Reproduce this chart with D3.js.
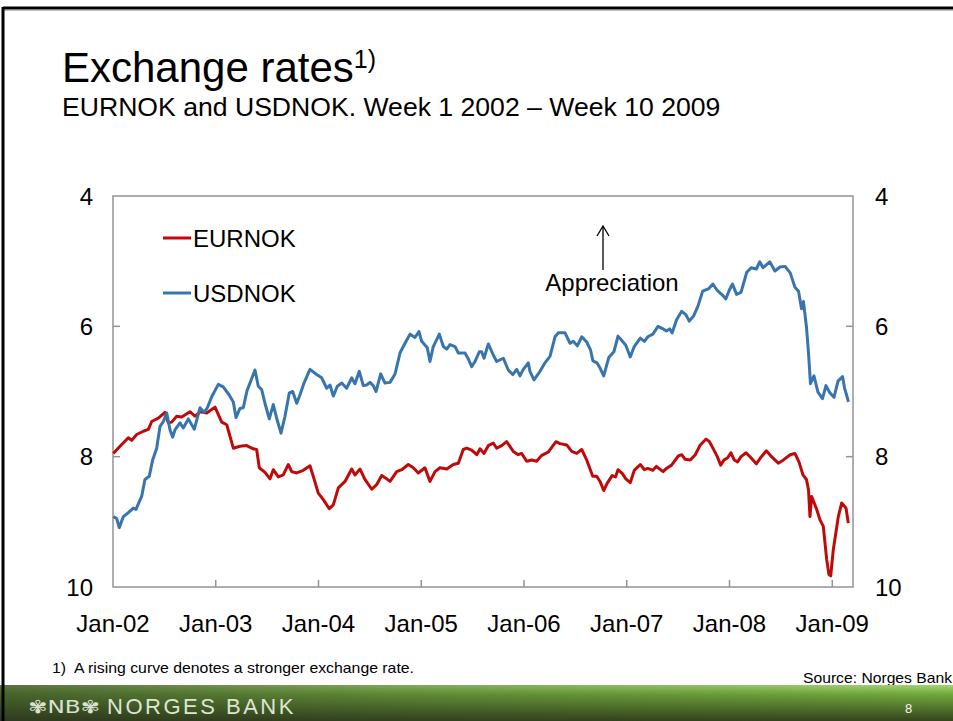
<!DOCTYPE html>
<head>
  <meta charset="utf-8">
  <title>Exchange rates</title>
  <script src="https://cdn.jsdelivr.net/npm/d3@7"></script>
  <style>
  body { margin: 0; background: #fff; }
  svg text { font-family: "Liberation Sans", Arial, sans-serif; fill: #000; }
  .frame line, .frame rect { stroke: #939393; }
  </style>
</head>

<body>
  <script type="text/javascript">
    var WIDTH = 953;
    var HEIGHT = 721;

    // EURNOK (decimal year, NOK per EUR)
    var eurDates = [2002.003,2002.068,2002.149,2002.182,2002.231,2002.295,2002.344,2002.377,2002.441,2002.506,2002.538,2002.571,2002.620,2002.669,2002.749,2002.798,2002.847,2002.912,2002.993,
      2003.058,2003.107,2003.171,2003.236,2003.301,2003.365,2003.398,2003.424,2003.479,2003.528,2003.560,2003.609,2003.657,2003.706,2003.739,2003.788,2003.852,2003.917,2003.949,2003.998,
      2004.047,2004.105,2004.144,2004.193,2004.258,2004.323,2004.355,2004.404,2004.452,2004.518,2004.566,2004.615,2004.664,2004.696,2004.761,2004.810,2004.874,2004.923,2004.971,
      2005.036,2005.085,2005.134,2005.182,2005.248,2005.312,2005.361,2005.409,2005.442,2005.491,2005.540,2005.572,2005.611,2005.653,2005.701,2005.734,2005.783,2005.831,2005.896,2005.944,2005.977,
      2006.026,2006.075,2006.123,2006.172,2006.236,2006.311,2006.350,2006.416,2006.464,2006.513,2006.562,2006.610,2006.669,2006.708,2006.740,2006.776,2006.809,2006.858,2006.891,2006.915,2006.958,2006.991,
      2007.034,2007.073,2007.132,2007.172,2007.205,2007.254,2007.288,2007.354,2007.386,2007.436,2007.502,2007.535,2007.568,2007.618,2007.667,2007.716,2007.772,2007.805,2007.849,2007.881,2007.914,2007.947,2007.981,
      2008.013,2008.046,2008.079,2008.112,2008.161,2008.211,2008.261,2008.310,2008.359,2008.409,2008.475,2008.525,2008.591,2008.637,2008.676,2008.715,2008.749,2008.769,2008.783,2008.800,2008.849,2008.881,2008.913,2008.946,2008.968,2008.985,
      2009.010,2009.059,2009.092,2009.134,2009.156];
    var eurnok = [7.95,7.84,7.71,7.75,7.66,7.61,7.58,7.46,7.41,7.32,7.48,7.47,7.38,7.39,7.31,7.38,7.31,7.33,7.24,
      7.47,7.51,7.87,7.84,7.83,7.88,7.89,8.17,8.24,8.34,8.20,8.31,8.28,8.12,8.23,8.25,8.21,8.14,8.30,8.56,
      8.66,8.80,8.74,8.48,8.38,8.19,8.28,8.19,8.35,8.50,8.43,8.29,8.34,8.38,8.23,8.20,8.12,8.17,8.25,
      8.17,8.38,8.23,8.17,8.19,8.12,8.10,7.89,7.87,7.90,7.97,7.88,7.95,7.83,7.79,7.87,7.83,7.77,7.92,7.97,7.95,
      8.07,8.05,8.07,7.98,7.93,7.77,7.80,7.82,7.92,7.95,7.89,8.05,8.30,8.30,8.38,8.52,8.41,8.29,8.31,8.20,8.26,8.34,
      8.40,8.21,8.12,8.20,8.18,8.21,8.15,8.23,8.18,8.13,7.99,7.97,8.04,8.05,7.97,7.82,7.73,7.77,7.90,8.00,8.13,8.05,8.02,
      7.94,8.05,8.08,8.00,7.94,8.02,8.11,8.00,7.91,8.00,8.10,8.05,7.97,7.95,8.08,8.28,8.35,8.51,8.92,8.61,8.81,8.97,9.07,9.58,9.81,9.83,
      9.43,8.92,8.71,8.79,9.02];

    // USDNOK (decimal year, NOK per USD)
    var usdDates = [2002.003,2002.036,2002.061,2002.100,2002.149,2002.198,2002.224,2002.256,2002.279,2002.311,2002.353,2002.386,2002.425,2002.457,2002.490,2002.523,2002.555,2002.581,2002.603,2002.652,2002.684,2002.733,2002.791,2002.847,2002.886,2002.918,2002.961,
      2003.025,2003.073,2003.129,2003.171,2003.197,2003.236,2003.268,2003.304,2003.382,2003.414,2003.447,2003.479,2003.521,2003.560,2003.593,2003.635,2003.674,2003.716,2003.749,2003.788,2003.820,2003.859,2003.917,2003.982,
      2004.031,2004.080,2004.112,2004.144,2004.183,2004.226,2004.274,2004.323,2004.355,2004.397,2004.436,2004.469,2004.501,2004.533,2004.560,2004.605,2004.647,2004.696,2004.745,2004.793,2004.842,2004.891,2004.939,2004.978,
      2005.004,2005.059,2005.085,2005.117,2005.176,2005.215,2005.248,2005.280,2005.328,2005.361,2005.426,2005.458,2005.491,2005.523,2005.565,2005.588,2005.611,2005.653,2005.701,2005.734,2005.799,2005.847,2005.890,2005.929,2005.961,2005.993,
      2006.042,2006.058,2006.097,2006.156,2006.204,2006.253,2006.302,2006.334,2006.399,2006.448,2006.480,2006.519,2006.562,2006.610,2006.647,2006.671,2006.710,2006.740,2006.776,2006.825,2006.875,2006.915,2006.958,2006.991,
      2007.034,2007.073,2007.132,2007.172,2007.205,2007.254,2007.304,2007.354,2007.386,2007.419,2007.442,2007.485,2007.535,2007.575,2007.608,2007.651,2007.693,2007.739,2007.799,2007.838,2007.881,2007.931,2007.964,2007.997,
      2008.029,2008.069,2008.112,2008.168,2008.211,2008.261,2008.294,2008.327,2008.392,2008.442,2008.491,2008.541,2008.591,2008.637,2008.672,2008.701,2008.720,2008.749,2008.769,2008.788,2008.822,2008.861,2008.905,2008.939,2008.973,
      2009.017,2009.056,2009.100,2009.119,2009.158];
    var usdnok = [8.92,8.95,9.09,8.92,8.86,8.79,8.81,8.69,8.61,8.35,8.30,8.05,7.87,7.54,7.46,7.33,7.59,7.70,7.59,7.48,7.56,7.42,7.58,7.25,7.32,7.25,7.08,
      6.89,6.93,7.05,7.16,7.40,7.26,7.25,6.99,6.67,6.92,6.97,7.18,7.42,7.20,7.41,7.64,7.38,7.02,7.00,7.18,7.05,6.87,6.66,6.74,
      6.79,6.95,6.90,7.07,6.92,6.87,6.95,6.79,6.88,6.69,6.91,6.90,6.86,6.91,7.00,6.73,6.87,6.86,6.73,6.41,6.26,6.12,6.17,6.08,
      6.23,6.33,6.54,6.31,6.12,6.31,6.35,6.28,6.31,6.41,6.41,6.50,6.62,6.54,6.39,6.39,6.49,6.27,6.44,6.54,6.49,6.67,6.74,6.66,6.76,6.66,
      6.56,6.69,6.82,6.69,6.56,6.46,6.16,6.10,6.10,6.26,6.23,6.30,6.16,6.24,6.36,6.53,6.56,6.64,6.76,6.48,6.39,6.15,6.23,6.29,
      6.47,6.31,6.18,6.23,6.16,6.12,6.00,6.04,6.07,6.04,6.10,5.90,5.77,5.82,5.92,5.84,5.69,5.46,5.42,5.35,5.45,5.52,5.58,5.45,
      5.35,5.51,5.48,5.17,5.10,5.12,5.01,5.10,5.01,5.15,5.09,5.08,5.18,5.40,5.46,5.73,5.62,6.01,6.41,6.88,6.76,7.01,7.11,6.91,7.01,
      7.09,6.84,6.77,6.94,7.16];

    var yearTicks = [2002, 2003, 2004, 2005, 2006, 2007, 2008, 2009];
    var yearLabels = ["Jan-02", "Jan-03", "Jan-04", "Jan-05", "Jan-06", "Jan-07", "Jan-08", "Jan-09"];
    var valueTicks = [4, 6, 8, 10];

    var series = [
      {name: "EURNOK", color: "#c00a0a", dates: eurDates, values: eurnok},
      {name: "USDNOK", color: "#3874ad", dates: usdDates, values: usdnok}
    ];

    var svg = d3.select("body").append("svg")
                .attr("width", WIDTH)
                .attr("height", HEIGHT);

    // slide frame
    svg.append("rect").attr("x", 0).attr("y", 0).attr("width", WIDTH).attr("height", HEIGHT).attr("fill", "#fff");
    svg.append("line").attr("x1", 3).attr("x2", WIDTH).attr("y1", 8).attr("y2", 8)
      .attr("stroke", "#000").attr("stroke-width", 3);
    svg.append("line").attr("x1", 3).attr("x2", WIDTH).attr("y1", 10.5).attr("y2", 10.5)
      .attr("stroke", "#bbb").attr("stroke-width", 1);
    svg.append("line").attr("x1", 3).attr("x2", 3).attr("y1", 7).attr("y2", HEIGHT)
      .attr("stroke", "#000").attr("stroke-width", 3);

    // title
    var title = svg.append("text").attr("x", 62).attr("y", 82).style("font-size", "42px");
    title.append("tspan").text("Exchange rates");
    title.append("tspan").attr("dy", -14).style("font-size", "25px").text("1)");
    svg.append("text").attr("x", 62).attr("y", 116).style("font-size", "26.6px")
      .text("EURNOK and USDNOK. Week 1 2002 \u2013 Week 10 2009");

    // plot area
    var plotL = 113, plotR = 853, plotT = 196, plotB = 587;
    var x = d3.scaleLinear().domain([2002, 2002 + (plotR - plotL) / 102.75]).range([plotL, plotR]);
    var y = d3.scaleLinear().domain([4, 10]).range([plotT, plotB]);

    var frame = svg.append("g").attr("class", "frame");
    frame.append("rect").attr("x", plotL).attr("y", plotT)
      .attr("width", plotR - plotL).attr("height", plotB - plotT)
      .attr("fill", "none").attr("stroke-width", 1.5);

    frame.selectAll(".xt").data(yearTicks.slice(1)).enter().append("line")
      .attr("x1", function(d){ return x(d); }).attr("x2", function(d){ return x(d); })
      .attr("y1", plotB).attr("y2", plotB - 7).attr("stroke-width", 1.5);
    frame.selectAll(".yl").data([6, 8]).enter().append("line")
      .attr("x1", plotL).attr("x2", plotL + 7)
      .attr("y1", function(d){ return y(d); }).attr("y2", function(d){ return y(d); }).attr("stroke-width", 1.5);
    frame.selectAll(".yr").data([6, 8]).enter().append("line")
      .attr("x1", plotR).attr("x2", plotR - 7)
      .attr("y1", function(d){ return y(d); }).attr("y2", function(d){ return y(d); }).attr("stroke-width", 1.5);

    // axis labels
    svg.selectAll(".ylab").data(valueTicks).enter().append("text")
      .attr("x", 93).attr("y", function(d){ return y(d); }).attr("dy", "0.36em")
      .attr("text-anchor", "end").style("font-size", "24px")
      .text(function(d){ return d; });
    svg.selectAll(".yrlab").data(valueTicks).enter().append("text")
      .attr("x", 875).attr("y", function(d){ return y(d); }).attr("dy", "0.36em")
      .style("font-size", "24px")
      .text(function(d){ return d; });
    svg.selectAll(".xlab").data(yearTicks).enter().append("text")
      .attr("x", function(d){ return x(d); }).attr("y", 632)
      .attr("text-anchor", "middle").style("font-size", "24px")
      .text(function(d, i){ return yearLabels[i]; });

    // lines
    var line = d3.line()
      .x(function(d){ return x(d[0]); })
      .y(function(d){ return y(d[1]); });

    svg.selectAll(".series").data(series).enter().append("path")
      .attr("fill", "none")
      .attr("stroke", function(d){ return d.color; })
      .attr("stroke-width", 3)
      .attr("stroke-linejoin", "round")
      .attr("d", function(d){ return line(d3.zip(d.dates, d.values)); });

    // legend
    var legend = svg.selectAll(".legend").data(series).enter().append("g")
      .attr("transform", function(d, i){ return "translate(163," + (238 + i * 55) + ")"; });
    legend.append("line").attr("x1", 0).attr("x2", 28).attr("y1", 0).attr("y2", 0)
      .attr("stroke", function(d){ return d.color; }).attr("stroke-width", 3);
    legend.append("text").attr("x", 30).attr("y", 0).attr("dy", "0.36em")
      .style("font-size", "24px").text(function(d){ return d.name; });

    // appreciation arrow
    svg.append("line").attr("x1", 603).attr("x2", 603).attr("y1", 270).attr("y2", 226)
      .attr("stroke", "#000").attr("stroke-width", 1.3);
    svg.append("path").attr("d", "M597,236 L603,226 L609,236")
      .attr("fill", "none").attr("stroke", "#000").attr("stroke-width", 1.3);
    svg.append("text").attr("x", 612).attr("y", 291).attr("text-anchor", "middle")
      .style("font-size", "24px").text("Appreciation");

    // footnote and source
    svg.append("text").attr("x", 52).attr("y", 673).style("font-size", "15px")
      .attr("textLength", 362).attr("lengthAdjust", "spacingAndGlyphs")
      .text("1)\u00a0 A rising curve denotes a stronger exchange rate.");
    svg.append("text").attr("x", 803).attr("y", 683).style("font-size", "15px")
      .attr("textLength", 149).attr("lengthAdjust", "spacingAndGlyphs")
      .text("Source: Norges Bank");

    // bottom banner
    var defs = svg.append("defs");
    var gv = defs.append("linearGradient").attr("id", "bannerV").attr("x1", 0).attr("y1", 0).attr("x2", 0).attr("y2", 1);
    gv.append("stop").attr("offset", "0%").attr("stop-color", "#a4d472");
    gv.append("stop").attr("offset", "25%").attr("stop-color", "#72aa3c");
    gv.append("stop").attr("offset", "100%").attr("stop-color", "#34441d");
    var gh = defs.append("linearGradient").attr("id", "bannerH").attr("x1", 0).attr("y1", 0).attr("x2", 1).attr("y2", 0);
    gh.append("stop").attr("offset", "0%").attr("stop-color", "#2a3320").attr("stop-opacity", 0.6);
    gh.append("stop").attr("offset", "45%").attr("stop-color", "#2a3320").attr("stop-opacity", 0.25);
    gh.append("stop").attr("offset", "100%").attr("stop-color", "#2a3320").attr("stop-opacity", 0);

    svg.append("rect").attr("x", 0).attr("y", 685).attr("width", WIDTH).attr("height", 36).attr("fill", "url(#bannerV)");
    svg.append("rect").attr("x", 0).attr("y", 685).attr("width", WIDTH).attr("height", 36).attr("fill", "url(#bannerH)");
    svg.append("line").attr("x1", 3).attr("x2", 3).attr("y1", 685).attr("y2", HEIGHT)
      .attr("stroke", "#000").attr("stroke-width", 3);

    svg.append("text").attr("x", 28).attr("y", 713)
      .style("font-family", "DejaVu Sans").style("font-size", "18px").style("fill", "#d9e2cf")
      .attr("textLength", 72).attr("lengthAdjust", "spacingAndGlyphs")
      .text("\u273ENB\u273E");
    svg.append("text").attr("x", 107).attr("y", 714)
      .style("font-size", "22px").style("letter-spacing", "2.5px").style("fill", "#dde5d3")
      .text("NORGES BANK");
    svg.append("text").attr("x", 905).attr("y", 713)
      .style("font-size", "13px").style("fill", "#f4f4f4")
      .text("8");
  </script>
</body>
